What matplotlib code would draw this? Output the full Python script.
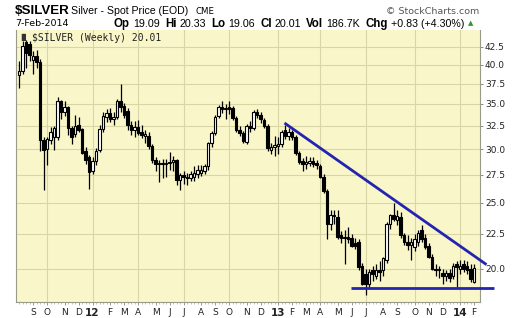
import numpy as np
import pandas as pd
import matplotlib
matplotlib.use('Agg')
import matplotlib.pyplot as plt
import matplotlib.dates as mdates
from matplotlib.ticker import FixedLocator, NullFormatter, NullLocator, FixedFormatter

# ---------------- data ----------------
start_week = '2011-08-08'   # weekly bars (dated by Monday)
opens = [38.6, 39.2, 43.2, 42.9, 40.6, 41.2, 40.3, 31.0, 30.0, 31.0,
         31.3, 31.3, 35.3, 34.0, 34.6, 32.2, 31.6, 32.6, 32.1, 29.8,
         29.2, 27.9, 28.8, 29.9, 32.1, 33.5, 33.9, 33.2, 33.5, 35.3,
         34.8, 34.2, 32.6, 32.0, 32.4, 31.8, 31.4, 31.4, 30.3, 28.9,
         28.5, 28.6, 28.5, 28.6, 28.7, 28.9, 27.0, 27.5, 27.3, 27.2,
         27.3, 27.6, 27.7, 27.9, 28.3, 30.6, 31.7, 33.6, 34.6, 34.4,
         34.6, 34.5, 33.4, 32.0, 31.7, 30.8, 32.5, 32.3, 34.0, 33.7,
         33.1, 32.5, 29.9, 30.2, 30.3, 30.5, 32.0, 31.4, 31.8, 31.3,
         29.6, 28.8, 28.5, 28.6, 28.8, 28.6, 28.3, 27.3, 26.0, 23.3,
         24.0, 23.8, 22.4, 22.2, 22.3, 22.2, 21.8, 21.9, 20.2, 19.6,
         19.0, 19.9, 19.5, 19.9, 19.9, 20.6, 23.3, 24.0, 23.6, 23.8,
         22.4, 21.9, 21.7, 21.5, 21.9, 22.8, 22.2, 21.6, 20.8, 20.0,
         19.9, 19.7, 19.5, 19.7, 19.5, 20.3, 20.0, 20.3, 20.2, 20.0,
         19.09]
highs = [40.5, 43.4, 43.5, 43.3, 41.9, 42.0, 40.8, 31.3, 31.3, 32.4,
         32.5, 35.8, 35.5, 35.3, 34.8, 32.5, 33.7, 33.5, 32.3, 30.2,
         29.4, 29.2, 30.1, 32.6, 34.0, 34.4, 34.5, 34.0, 35.6, 37.5,
         35.1, 34.5, 33.0, 33.0, 33.1, 32.6, 32.0, 31.8, 30.5, 29.2,
         28.9, 29.0, 29.0, 29.7, 29.3, 29.0, 27.7, 27.9, 27.7, 27.9,
         28.3, 28.4, 28.4, 28.5, 30.8, 31.9, 33.7, 34.9, 35.3, 35.0,
         35.4, 34.8, 33.6, 32.5, 31.9, 32.7, 33.0, 34.3, 34.4, 34.0,
         33.4, 32.7, 30.6, 31.4, 31.3, 32.0, 32.6, 32.3, 32.0, 31.5,
         29.8, 29.1, 29.3, 29.2, 29.2, 28.9, 28.5, 27.6, 26.2, 24.4,
         24.4, 24.4, 22.7, 22.8, 23.0, 22.5, 22.2, 22.1, 20.4, 20.0,
         20.0, 20.2, 20.3, 20.5, 20.8, 23.4, 24.1, 25.0, 24.4, 24.2,
         22.6, 22.4, 22.2, 22.5, 22.8, 23.2, 22.5, 21.8, 21.0, 20.3,
         20.2, 20.0, 19.9, 20.0, 20.4, 20.5, 20.6, 20.6, 20.5, 20.3,
         20.33]
lows = [36.9, 38.7, 39.5, 40.5, 38.8, 39.5, 29.8, 26.1, 28.4, 30.5,
        29.9, 31.0, 33.3, 33.6, 31.5, 30.5, 31.3, 31.8, 29.5, 28.5,
        26.2, 27.6, 28.4, 29.7, 31.8, 32.9, 32.9, 32.6, 33.2, 34.0,
        33.4, 32.0, 31.5, 31.3, 31.5, 31.2, 30.6, 30.0, 28.6, 27.9,
        26.8, 27.2, 27.3, 28.0, 27.9, 26.6, 26.1, 26.7, 26.6, 26.9,
        26.9, 27.2, 27.4, 27.6, 28.0, 30.2, 31.5, 33.4, 33.9, 33.3,
        33.8, 33.1, 31.8, 31.4, 30.6, 30.5, 31.8, 32.0, 33.4, 32.8,
        32.2, 29.8, 29.5, 29.3, 29.5, 30.2, 31.1, 31.0, 31.0, 29.4,
        28.5, 27.9, 28.1, 28.3, 28.2, 28.1, 27.2, 25.9, 22.1, 22.8,
        23.3, 22.1, 21.8, 20.3, 21.8, 21.5, 21.4, 19.9, 18.9, 18.3,
        18.8, 19.2, 19.3, 19.2, 19.5, 20.4, 22.9, 23.5, 23.2, 22.2,
        21.7, 21.3, 20.6, 21.2, 21.6, 21.9, 21.4, 20.7, 19.9, 19.5,
        19.4, 19.0, 19.2, 19.1, 19.3, 18.8, 19.6, 19.8, 19.6, 19.1,
        19.06]
closes = [39.2, 42.6, 41.6, 41.3, 41.2, 40.4, 31.0, 29.9, 31.1, 31.8,
          32.2, 35.3, 34.1, 34.6, 32.2, 31.3, 32.5, 32.0, 29.6, 28.9,
          27.8, 28.8, 29.8, 32.1, 33.6, 33.9, 33.2, 33.5, 35.3, 34.6,
          33.7, 32.6, 32.0, 32.4, 31.7, 31.5, 31.6, 30.3, 28.9, 28.5,
          28.6, 28.5, 28.6, 28.7, 28.9, 27.0, 27.5, 27.3, 27.2, 27.6,
          27.7, 28.0, 28.0, 28.3, 30.6, 31.7, 33.5, 34.6, 34.4, 34.5,
          34.4, 33.4, 32.0, 31.7, 30.9, 32.5, 32.3, 34.0, 33.7, 33.2,
          32.5, 30.1, 30.2, 30.4, 30.5, 31.8, 31.4, 31.8, 31.3, 29.6,
          28.7, 28.5, 28.7, 28.8, 28.5, 28.4, 27.3, 26.0, 23.3, 24.0,
          23.9, 22.3, 22.2, 22.3, 22.1, 21.6, 21.6, 20.1, 19.0, 19.0,
          19.8, 19.6, 19.9, 19.8, 20.7, 23.3, 24.0, 23.7, 23.9, 22.4,
          21.9, 21.7, 21.9, 22.1, 22.6, 22.1, 21.5, 20.8, 20.0, 19.9,
          20.0, 19.5, 19.7, 19.4, 20.2, 20.1, 20.2, 20.0, 19.9, 19.3,
          20.01]

y_ticks = [20.0, 22.5, 25.0, 27.5, 30.0, 32.5, 35.0, 37.5, 40.0, 42.5]
month_letters = ['J', 'F', 'M', 'A', 'M', 'J', 'J', 'A', 'S', 'O', 'N', 'D']

# trendlines drawn on the chart (date, price)
down_line_dates = ['2013-01-20', '2014-02-28']
down_line_prices = [32.8, 20.27]
support_dates = ['2013-06-01', '2014-03-15']
support_prices = [18.70, 18.70]

# ---------------- figure ----------------
W, H = 520, 318
fig = plt.figure(figsize=(W / 100, H / 100), dpi=100)
fig.patch.set_facecolor('white')
ax = fig.add_axes([16 / W, 16 / H, 464 / W, 272 / H])
ax.set_facecolor('#F9F6C9')

dates = pd.date_range(start_week, periods=len(closes), freq='W-MON')
xd = mdates.date2num(dates)
o = np.array(opens); h = np.array(highs); l = np.array(lows); c = np.array(closes)

# wicks
ax.vlines(xd, l, h, color='black', lw=0.9, zorder=3)
# bodies
up = c >= o
bottoms = np.minimum(o, c)
heights = np.maximum(np.abs(c - o), 0.04)
ax.bar(xd[up], heights[up], bottom=bottoms[up], width=5.4, color='white',
       edgecolor='black', lw=0.8, zorder=4, align='center')
ax.bar(xd[~up], heights[~up], bottom=bottoms[~up], width=5.4, color='black',
       edgecolor='black', lw=0.8, zorder=4, align='center')

# trendlines
ax.plot(mdates.date2num(pd.to_datetime(down_line_dates)), down_line_prices,
        color='#2424B0', lw=2.0, clip_on=False, zorder=5, solid_capstyle='butt')
ax.plot(mdates.date2num(pd.to_datetime(support_dates)), support_prices,
        color='#2424B0', lw=2.0, clip_on=False, zorder=5, solid_capstyle='butt')

# scales
ax.set_yscale('log')
ax.set_ylim(17.85, 45.0)
ax.set_xlim(mdates.date2num(pd.Timestamp('2011-08-02')),
            mdates.date2num(pd.Timestamp('2014-02-15')))

# y axis on right
ax.yaxis.tick_right()
ax.yaxis.set_major_locator(FixedLocator(y_ticks))
ax.yaxis.set_major_formatter(FixedFormatter(['%.1f' % v for v in y_ticks]))
ax.yaxis.set_minor_locator(NullLocator())
ax.yaxis.set_minor_formatter(NullFormatter())
ax.tick_params(axis='y', which='major', length=2, width=0.6, color='#777777',
               pad=1.5, labelsize=6.5, labelcolor='#222222')

# x axis: first bar of each month (only months that start within the chart)
first_of_month = dates.to_series().groupby([dates.year, dates.month]).first()
mon_dates = pd.DatetimeIndex([d for d in first_of_month.values
                              if pd.Timestamp(d).day <= 7])
mon_x = mdates.date2num(mon_dates)
mon_labels = []
for d in mon_dates:
    if d.month == 1:
        mon_labels.append('%02d' % (d.year % 100))
    else:
        mon_labels.append(month_letters[d.month - 1])
ax.xaxis.set_major_locator(FixedLocator(mon_x))
ax.xaxis.set_major_formatter(FixedFormatter(mon_labels))
ax.xaxis.set_minor_locator(FixedLocator(xd))
ax.tick_params(axis='x', which='major', length=2.5, width=0.6, color='#888888',
               pad=2, labelsize=6.5, labelcolor='#222222')
ax.tick_params(axis='x', which='minor', length=1.5, width=0.5, color='#aaaaaa')
for lab, d in zip(ax.get_xticklabels(), mon_dates):
    if d.month == 1:
        lab.set_fontweight('bold')
        lab.set_fontsize(7.5)

# grid: horizontal at ticks, vertical at quarter months
for v in y_ticks:
    ax.axhline(v, color='#D9D6A6', lw=0.8, zorder=1)
for d, xv in zip(mon_dates, mon_x):
    if d.month in (1, 4, 7, 10):
        ax.axvline(xv, color='#D9D6A6', lw=0.8, zorder=1)

for s in ['left', 'bottom', 'right']:
    ax.spines[s].set_color('#9a9a8a')
    ax.spines[s].set_linewidth(0.8)
ax.spines['top'].set_visible(False)

# ---------------- header texts ----------------
def fx(x):
    return x / W

def fy(y):
    return 1 - y / H

fig.text(fx(15), fy(11.5), '$SILVER', fontsize=9.6, fontweight='bold',
         family='Liberation Sans', va='center', ha='left', color='black')
fig.text(fx(71), fy(11.5), 'Silver - Spot Price (EOD)', fontsize=7.6,
         family='Liberation Sans', va='center', ha='left', color='black')
fig.text(fx(195), fy(11.5), 'CME', fontsize=6.2, family='DejaVu Sans',
         va='center', ha='left', color='black')
fig.text(fx(479), fy(11.5), '\u00a9 StockCharts.com', fontsize=6.8,
         family='DejaVu Sans', va='center', ha='right', color='#555555')
fig.text(fx(15), fy(24), '7-Feb-2014', fontsize=6.8, family='DejaVu Sans',
         va='center', ha='left', color='black')

renderer = fig.canvas.get_renderer()
pieces = [('Op', True), ('19.09', False), ('Hi', True), ('20.33', False),
          ('Lo', True), ('19.06', False), ('Cl', True), ('20.01', False),
          ('Vol', True), ('186.7K', False), ('Chg', True), ('+0.83 (+4.30%)', False)]

ROW_START, ROW_END = 114.0, 468.0


def layout(scale, start):
    arts = []
    cur = start
    for txt, bold in pieces:
        t = fig.text(fx(cur), fy(24), txt, fontsize=(7.6 if bold else 7.0) * scale,
                     fontweight='bold' if bold else 'normal',
                     family='Liberation Sans',
                     va='center', ha='left', color='black')
        bb = t.get_window_extent(renderer)
        cur = bb.x1 + (2.5 if bold else 5.0) * scale
        arts.append(t)
    return arts, cur


arts, end = layout(1.0, ROW_START)
scale = (ROW_END - ROW_START) / (end - ROW_START)
for a in arts:
    a.remove()
arts, end = layout(scale, ROW_START)
fig.text(fx(end - 1), fy(23.5), '\u25b2', fontsize=5, color='#2a9a2a',
         va='center', ha='left', family='DejaVu Sans')

# label inside plot
ax.text(0.005, 0.985, '\u2590\u258c', transform=ax.transAxes, fontsize=5,
        va='top', ha='left', color='#333333', family='DejaVu Sans')
ax.text(0.035, 0.99, '$SILVER (Weekly) 20.01', transform=ax.transAxes,
        fontsize=7, va='top', ha='left', color='#222222', family='DejaVu Sans Mono')

fig.savefig('out.png', dpi=100, facecolor='white')
